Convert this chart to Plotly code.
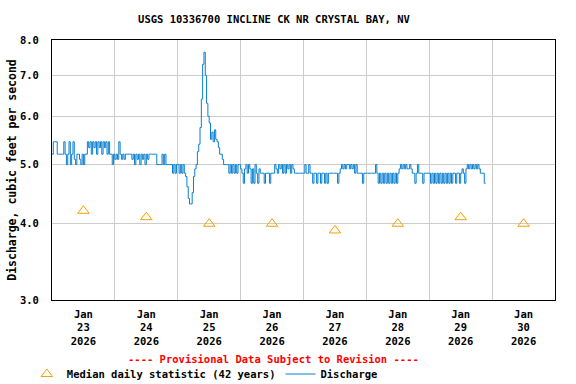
import plotly.graph_objects as go
import pandas as pd

# ---- data ----
median_dates = ["2026-01-23 12:00", "2026-01-24 12:00", "2026-01-25 12:00", "2026-01-26 12:00",
                "2026-01-27 12:00", "2026-01-28 12:00", "2026-01-29 12:00", "2026-01-30 12:00"]
median_values = [4.2, 4.1, 4.0, 4.0, 3.9, 4.0, 4.1, 4.0]

# discharge, 30-minute values starting 2026-01-23 00:00
jan23 = [5.2, 5.45, 5.45, 5.45, 5.2, 5.2, 5.2, 5.2, 5.2, 5.45, 5.2, 5.0, 5.2, 5.45, 5.0, 5.2,
         5.45, 5.1, 5.0, 5.2, 5.2, 5.1, 5.0, 5.2, 5.0, 5.2, 5.2, 5.45, 5.33, 5.45, 5.2, 5.45,
         5.33, 5.45, 5.2, 5.45, 5.33, 5.45, 5.2, 5.45, 5.33, 5.45, 5.2, 5.45, 5.2, 5.2, 5.0, 5.2]
jan24 = [5.1, 5.2, 5.1, 5.45, 5.2, 5.1, 5.2, 5.1, 5.2, 5.2, 5.2, 5.2, 5.2, 5.1, 5.2, 5.0,
         5.2, 5.1, 5.2, 5.0, 5.2, 5.1, 5.2, 5.0, 5.2, 5.1, 5.2, 5.2, 5.2, 5.2, 5.2, 5.2,
         5.0, 5.0, 5.0, 5.0, 5.2, 5.0, 5.2, 5.0, 5.0, 5.0, 5.0, 5.0, 4.84, 5.0, 4.84, 5.0]
jan25 = [5.0, 4.84, 5.0, 4.84, 5.0, 4.84, 4.78, 4.6, 4.4, 4.31, 4.31, 4.5, 4.78, 4.92, 5.0, 5.25,
         5.4, 5.75, 6.4, 7.3, 7.64, 7.0, 6.3, 6.0, 5.85, 5.5, 5.65, 5.45, 5.7, 5.5, 5.45, 5.33,
         5.2, 5.2, 5.1, 5.0, 5.0, 5.0, 5.0, 4.84, 5.0, 4.84, 5.0, 4.84, 5.0, 4.84, 5.0, 5.0]
jan26 = [4.92, 4.84, 4.66, 4.92, 5.0, 4.84, 5.0, 4.92, 4.66, 4.92, 4.66, 5.0, 4.84, 4.66, 4.92, 4.84,
         4.84, 4.84, 4.66, 4.84, 4.84, 4.84, 4.66, 4.84, 4.84, 4.84, 5.0, 4.92, 4.84, 5.0, 4.92, 5.0,
         4.84, 5.0, 4.84, 5.0, 4.92, 5.0, 4.84, 5.0, 4.92, 4.84, 4.84, 4.84, 4.84, 4.84, 4.84, 4.84]
jan27 = [4.84, 5.0, 4.84, 4.84, 5.0, 4.84, 4.84, 4.66, 4.84, 4.84, 4.66, 4.84, 4.84, 4.66, 4.84, 4.84,
         4.66, 4.84, 4.66, 4.84, 4.84, 4.84, 4.84, 4.84, 4.84, 4.84, 4.66, 4.84, 4.92, 5.0, 4.92, 5.0,
         4.92, 5.0, 5.0, 4.92, 5.0, 4.92, 5.0, 4.84, 5.0, 4.84, 4.84, 4.84, 4.84, 4.66, 4.84, 4.84]
jan28 = [4.84, 4.84, 4.84, 4.84, 4.84, 4.84, 4.84, 5.0, 4.84, 4.66, 4.84, 4.66, 4.84, 4.66, 4.84, 4.66,
         4.84, 4.66, 4.84, 4.66, 4.84, 4.66, 4.84, 4.66, 4.84, 4.92, 5.0, 4.92, 5.0, 4.92, 5.0, 4.92,
         4.92, 5.0, 4.92, 4.84, 4.84, 4.66, 4.84, 5.0, 4.84, 4.84, 4.84, 4.66, 4.84, 4.84, 4.84, 4.84]
jan29 = [4.84, 4.66, 4.84, 4.66, 4.84, 4.66, 4.84, 4.66, 4.84, 4.66, 4.84, 4.66, 4.84, 4.66, 4.84, 4.66,
         4.84, 4.66, 4.84, 4.84, 4.66, 4.84, 4.84, 4.66, 4.84, 4.92, 4.84, 4.66, 4.92, 5.0, 4.92, 5.0,
         4.92, 5.0, 4.92, 5.0, 4.92, 5.0, 4.92, 4.84, 4.84, 4.84, 4.66, 4.66]

y_ticks = [3, 4, 5, 6, 7, 8]
y_tick_labels = ["3.0", "4.0", "5.0", "6.0", "7.0", "8.0"]

discharge = jan23 + jan24 + jan25 + jan26 + jan27 + jan28 + jan29
times = pd.date_range("2026-01-23 00:00", periods=len(discharge), freq="30min")

FONT = "DejaVu Sans Mono"
GRID = "#cccccc"

fig = go.Figure()
fig.add_trace(go.Scatter(
    x=median_dates, y=median_values, mode="markers",
    name="Median daily statistic (42 years)",
    marker=dict(symbol="triangle-up-open", size=10, color="#f5a000", line=dict(width=1)),
))
fig.add_trace(go.Scatter(
    x=times, y=discharge, mode="lines", name="Discharge",
    line=dict(color="#0a7fd0", width=1, shape="hv"),
))

fig.update_layout(
    width=576, height=384,
    margin=dict(l=52, r=21, t=40, b=84, autoexpand=False),
    paper_bgcolor="white", plot_bgcolor="white",
    font=dict(family=FONT, size=10.5, color="black", weight="bold"),
    title=dict(text="USGS 10336700 INCLINE CK NR CRYSTAL BAY, NV",
               x=274 / 576, xanchor="center", y=1 - 19 / 384, yanchor="middle",
               font=dict(family=FONT, size=10.5, color="black", weight="bold")),
    showlegend=True,
    legend=dict(orientation="h", x=-0.05, xanchor="left", y=(300 - 374) / 260, yanchor="middle",
                font=dict(family=FONT, size=10.5, color="black", weight="bold"),
                bgcolor="rgba(0,0,0,0)", itemwidth=30, tracegroupgap=0),
    annotations=[dict(text="---- Provisional Data Subject to Revision ----",
                      xref="paper", yref="paper", x=(273.5 - 52) / 503, y=(300 - 359) / 260,
                      xanchor="center", yanchor="middle", showarrow=False,
                      font=dict(family=FONT, size=10.5, color="red", weight="bold"))],
)

fig.update_xaxes(
    type="date", range=["2026-01-23 00:00", "2026-01-31 00:00"],
    tick0="2026-01-23", dtick=86400000, ticklabelmode="period",
    tickformat="%b<br>%d<br>%Y", ticks="",
    showgrid=True, gridcolor=GRID, gridwidth=1,
    showline=True, linecolor="black", linewidth=1, mirror=True,
    zeroline=False, ticklabelstandoff=4, automargin=False,
    tickfont=dict(family=FONT, size=10.5, color="black", weight="bold"),
)
fig.update_yaxes(
    type="log", range=[0.4771212546, 0.9030899871],
    tickvals=y_ticks, ticktext=y_tick_labels, ticks="",
    showgrid=True, gridcolor=GRID, gridwidth=1,
    showline=True, linecolor="black", linewidth=1, mirror=True,
    zeroline=False, ticklabelstandoff=10, automargin=False,
    tickfont=dict(family=FONT, size=10.5, color="black", weight="bold"),
    title=dict(text="Discharge, cubic feet per second", standoff=0,
               font=dict(family=FONT, size=11.5, color="black", weight="bold")),
)

fig.write_html("out.html", config={"displayModeBar": False},
               post_script="document.body.style.margin='0px';")
